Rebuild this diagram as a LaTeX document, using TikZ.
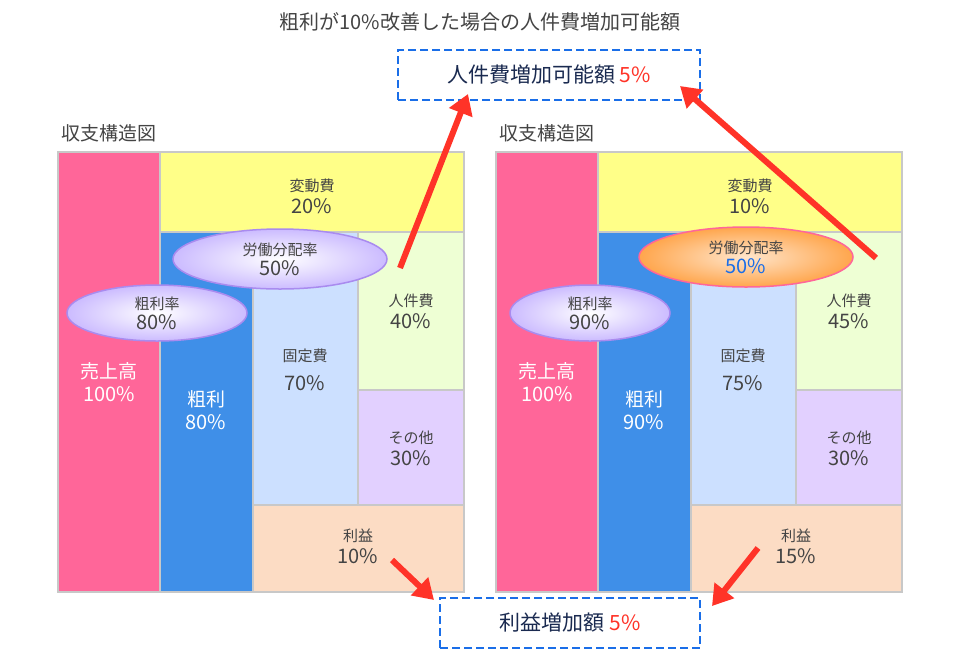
\documentclass[tikz,border=0pt]{standalone}
\usepackage{fontspec}
\setmainfont{Noto Sans CJK JP}
\usetikzlibrary{arrows.meta,shapes.geometric}
\definecolor{pinkc}{HTML}{FF6699}
\definecolor{yel}{HTML}{FFFF88}
\definecolor{blu}{HTML}{3F8FE8}
\definecolor{lblu}{HTML}{CCE0FF}
\definecolor{lgrn}{HTML}{EEFFD4}
\definecolor{lav}{HTML}{E2D0FF}
\definecolor{pch}{HTML}{FCDCC4}
\definecolor{grayb}{HTML}{C8C8C8}
\definecolor{txt}{HTML}{444444}
\definecolor{navy}{HTML}{1A2A50}
\definecolor{redc}{HTML}{FF3328}
\definecolor{dblu}{HTML}{1A6EE8}
\definecolor{ellb}{HTML}{A98BEF}
\newcommand{\sm}{\fontsize{15}{20}\selectfont}
\newcommand{\bg}{\fontsize{20}{26}\selectfont}
\tikzset{
 cell/.style={draw=grayb,line width=1.5pt,fill=#1},
 lbl/.style={text=txt,align=center},
 big/.style={text=txt,font=\fontsize{19}{23}\selectfont},
 ell/.style={ellipse,draw=ellb,line width=1.5pt,inner color=white,outer color=lav!90!blue,minimum width=#1,align=center,inner sep=0pt},
 oell/.style={ellipse,draw=pinkc,line width=1.5pt,inner color=orange!20,outer color=orange!70,minimum width=#1,align=center,inner sep=0pt},
 rarr/.style={redc,line width=6pt,-{Triangle[length=20pt,width=24pt]}},
 dbox/.style={draw=dblu,line width=2.5pt,dash pattern=on 8pt off 4pt,text=navy}
}
\begin{document}
\begin{tikzpicture}[x=1pt,y=-1pt]
\fill[white] (0,0) rectangle (960,657);
\node[text=txt,font=\fontsize{20}{24}\selectfont] (title) at (480,22) {粗利が10\%改善した場合の人件費増加可能額};
\foreach \o/\hen/\ara/\kot/\jin/\rie/\rit/\nm in {0/20/80/70/40/10/80/L,438/10/90/75/45/15/90/R}{
 \begin{scope}[xshift=\o]
 \node[big,anchor=west] at (58,133) {収支構造図};
 \draw[cell=pinkc] (58,152) rectangle (160,592);
 \draw[cell=yel] (160,152) rectangle (464,232);
 \draw[cell=blu] (160,232) rectangle (253,592);
 \draw[cell=lblu] (253,232) rectangle (358,505);
 \draw[cell=lgrn] (358,232) rectangle (464,390);
 \draw[cell=lav] (358,390) rectangle (464,505);
 \draw[cell=pch] (253,505) rectangle (464,592);
 \draw[grayb,line width=1.5pt] (58,152) rectangle (464,592);
 \node[lbl,text=white] at (109,382) {\fontsize{19}{26}\selectfont 売上高\\[6pt]\bg 100\%};
 \node[lbl] at (312,196) {\sm 変動費\\[5pt]\bg \hen\%};
 \node[lbl,text=white] at (206,410) {\fontsize{19}{26}\selectfont 粗利\\[6pt]\bg \ara\%};
 \node[lbl] at (305,370) {\sm 固定費\\[12pt]\bg \kot\%};
 \node[lbl] at (411,311) {\sm 人件費\\[5pt]\bg \jin\%};
 \node[lbl] at (411,448) {\sm その他\\[5pt]\bg 30\%};
 \node[lbl] at (358,546) {\sm 利益\\[5pt]\bg \rie\%};
 \end{scope}
}
\node[ell=180pt,minimum height=56pt,lbl] (rL) at (157,313) {\sm 粗利率\\[3pt]\bg 80\%};
\node[ell=214pt,minimum height=60pt,lbl] (wL) at (280,259) {\sm 労働分配率\\[3pt]\bg 50\%};
\node[ell=160pt,minimum height=56pt,lbl] (rR) at (590,313) {\sm 粗利率\\[3pt]\bg 90\%};
\node[oell=214pt,minimum height=60pt,lbl] (wR) at (746,257) {\sm 労働分配率\\[3pt]\bg\color{dblu} 50\%};
\node[dbox,minimum width=302pt,minimum height=50pt,font=\fontsize{21}{25}\selectfont] (jb) at (549,75) {人件費増加可能額\ \textcolor{redc}{5\%}};
\node[dbox,minimum width=260pt,minimum height=50pt,font=\fontsize{21}{25}\selectfont] (rb) at (570,623) {利益増加額\ \textcolor{redc}{5\%}};
\coordinate (a1) at (400,268); \coordinate (a2) at (876,258);
\coordinate (a3) at (392,560); \coordinate (a4) at (758,548);
\draw[rarr] (a1) -- (468,94);
\draw[rarr] (a2) -- (680,86);
\draw[rarr] (a3) -- (434,600);
\draw[rarr] (a4) -- (712,606);
\end{tikzpicture}
\end{document}
